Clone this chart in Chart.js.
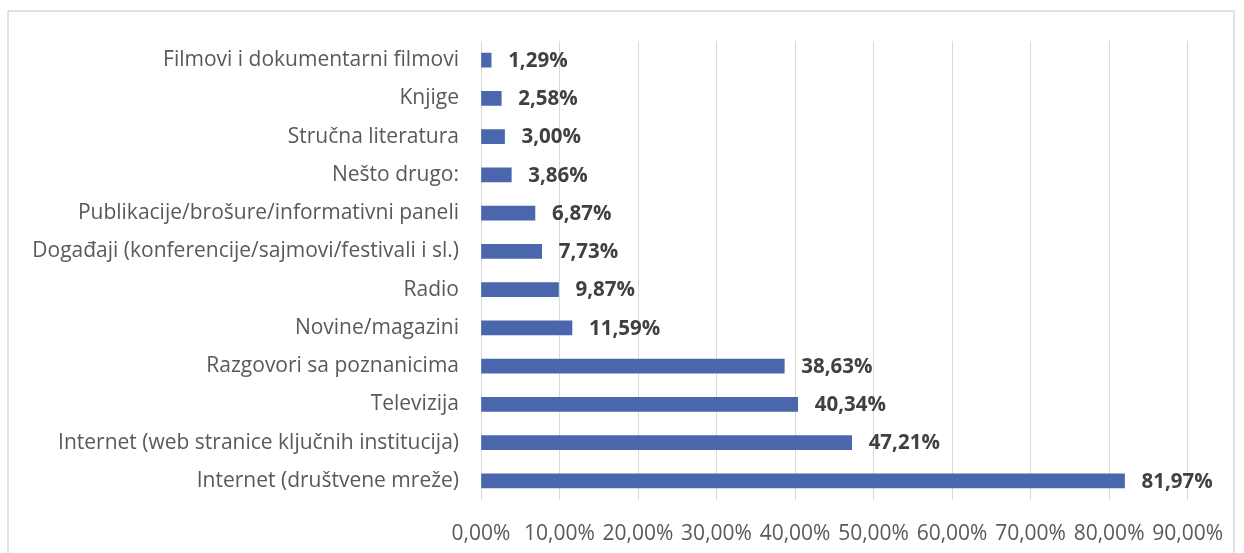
<!DOCTYPE html>
<html><head><meta charset="utf-8">
<script src="https://cdn.jsdelivr.net/npm/chart.js@4"></script>
<style>html,body{margin:0;padding:0;background:#fff}#w{width:1244px;height:553px;position:relative}</style>
</head><body><div id="w"><canvas id="c" width="1244" height="553"></canvas></div>
<script>
const categories = [
  "Filmovi i dokumentarni filmovi",
  "Knjige",
  "Stručna literatura",
  "Nešto drugo:",
  "Publikacije/brošure/informativni paneli",
  "Događaji (konferencije/sajmovi/festivali i sl.)",
  "Radio",
  "Novine/magazini",
  "Razgovori sa poznanicima",
  "Televizija",
  "Internet (web stranice ključnih institucija)",
  "Internet (društvene mreže)"
];
const values = [1.29, 2.58, 3.00, 3.86, 6.87, 7.73, 9.87, 11.59, 38.63, 40.34, 47.21, 81.97];
const tickValues = [0, 10, 20, 30, 40, 50, 60, 70, 80, 90];

const FONT = "'Open Sans', sans-serif";
const fmt = v => v.toFixed(2).replace('.', ',') + '%';

const borderPlugin = {
  id: 'border',
  beforeDraw(chart) {
    const ctx = chart.ctx;
    ctx.save();
    ctx.strokeStyle = '#d9d9d9';
    ctx.lineWidth = 1.5;
    ctx.strokeRect(8, 11, 1226, 600);
    ctx.restore();
  }
};
const labelPlugin = {
  id: 'vlabels',
  afterDatasetsDraw(chart) {
    const ctx = chart.ctx;
    const meta = chart.getDatasetMeta(0);
    ctx.save();
    ctx.font = "bold 20.5px " + FONT;
    ctx.fillStyle = '#404040';
    ctx.textBaseline = 'middle';
    ctx.textAlign = 'left';
    meta.data.forEach((el, i) => {
      ctx.fillText(fmt(values[i]), el.x + 17, el.y + 1);
    });
    ctx.restore();
  }
};

new Chart(document.getElementById('c'), {
  type: 'bar',
  data: {
    labels: categories,
    datasets: [{ data: values, backgroundColor: '#4A66AC', borderWidth: 0, barThickness: 14 }]
  },
  options: {
    indexAxis: 'y',
    responsive: false,
    animation: false,
    layout: { padding: { left: 0, top: 41, right: 56, bottom: 0 } },
    plugins: { legend: { display: false }, tooltip: { enabled: false } },
    scales: {
      x: {
        min: 0, max: 90,
        afterBuildTicks: s => { s.ticks = tickValues.map(v => ({ value: v })); },
        afterFit: s => { s.height = 53; },
        grid: { color: '#d9d9d9', lineWidth: 1, drawTicks: false },
        border: { display: false },
        ticks: { padding: 21, color: '#595959', font: { family: FONT, size: 21 }, callback: v => fmt(v), maxRotation: 0, autoSkip: false }
      },
      y: {
        afterFit: s => { s.width = 481; },
        grid: { display: false, drawTicks: false },
        border: { display: false },
        ticks: { padding: 22, color: '#595959', font: { family: FONT, size: 21 }, autoSkip: false }
      }
    }
  },
  plugins: [borderPlugin, labelPlugin]
});
</script></body></html>
